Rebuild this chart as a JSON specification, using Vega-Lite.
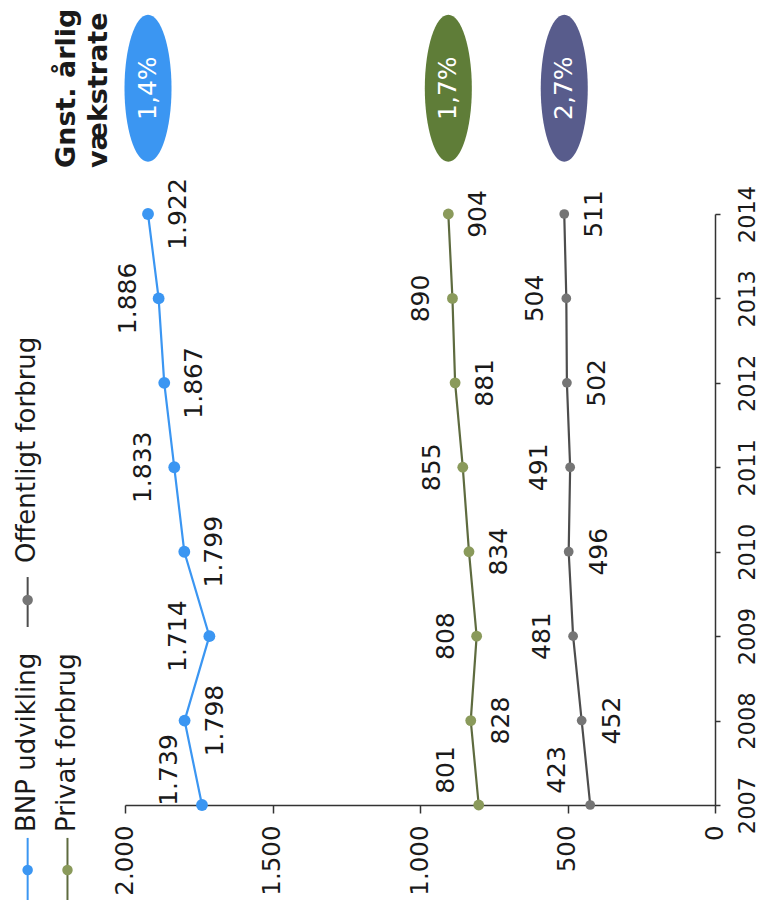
{
  "$schema": "https://vega.github.io/schema/vega-lite/v6.json",
  "width": 590,
  "height": 591,
  "autosize": "none",
  "padding": {"left": 125, "top": 214, "right": 46, "bottom": 108},
  "background": "white",
  "config": {
    "view": {"stroke": null},
    "font": "DejaVu Sans",
    "axis": {"grid": false},
    "locale": {"number": {"decimal": ",", "thousands": ".", "grouping": [3], "currency": ["", " kr."]}}
  },
  "datasets": {
    "series": [
      {"series": "BNP udvikling", "year": 2007, "value": 1739},
      {"series": "BNP udvikling", "year": 2008, "value": 1798},
      {"series": "BNP udvikling", "year": 2009, "value": 1714},
      {"series": "BNP udvikling", "year": 2010, "value": 1799},
      {"series": "BNP udvikling", "year": 2011, "value": 1833},
      {"series": "BNP udvikling", "year": 2012, "value": 1867},
      {"series": "BNP udvikling", "year": 2013, "value": 1886},
      {"series": "BNP udvikling", "year": 2014, "value": 1922},
      {"series": "Privat forbrug", "year": 2007, "value": 801},
      {"series": "Privat forbrug", "year": 2008, "value": 828},
      {"series": "Privat forbrug", "year": 2009, "value": 808},
      {"series": "Privat forbrug", "year": 2010, "value": 834},
      {"series": "Privat forbrug", "year": 2011, "value": 855},
      {"series": "Privat forbrug", "year": 2012, "value": 881},
      {"series": "Privat forbrug", "year": 2013, "value": 890},
      {"series": "Privat forbrug", "year": 2014, "value": 904},
      {"series": "Offentligt forbrug", "year": 2007, "value": 423},
      {"series": "Offentligt forbrug", "year": 2008, "value": 452},
      {"series": "Offentligt forbrug", "year": 2009, "value": 481},
      {"series": "Offentligt forbrug", "year": 2010, "value": 496},
      {"series": "Offentligt forbrug", "year": 2011, "value": 491},
      {"series": "Offentligt forbrug", "year": 2012, "value": 502},
      {"series": "Offentligt forbrug", "year": 2013, "value": 504},
      {"series": "Offentligt forbrug", "year": 2014, "value": 511}
    ],
    "growth": [
      {"series": "BNP udvikling", "rate": 0.014},
      {"series": "Privat forbrug", "rate": 0.017},
      {"series": "Offentligt forbrug", "rate": 0.027}
    ]
  },
  "data": {"name": "series"},
  "layer": [
    {
      "mark": {"type": "line", "strokeWidth": 2.2},
      "encoding": {
        "x": {
          "field": "value", "type": "quantitative",
          "scale": {"domain": [0, 2000], "reverse": true, "nice": false, "zero": false},
          "axis": {
            "title": null, "orient": "bottom", "values": [0, 500, 1000, 1500, 2000], "format": ",.0f",
            "labelAngle": 270, "labelAlign": "right", "labelBaseline": "middle",
            "labelFontSize": 24.5, "labelColor": "#1a1a1a", "labelPadding": 12, "tickSize": 8,
            "labelFlush": false, "labelOverlap": false,
            "domainColor": "#333333", "tickColor": "#333333", "domainWidth": 1.5, "tickWidth": 1.5
          }
        },
        "y": {
          "field": "year", "type": "quantitative",
          "scale": {"domain": [2007, 2014], "nice": false, "zero": false},
          "axis": {
            "title": null, "orient": "right", "values": [2007, 2008, 2009, 2010, 2011, 2012, 2013, 2014], "format": "d",
            "labelAngle": 270, "labelAlign": "center", "labelBaseline": "top",
            "labelFontSize": 22.5, "labelColor": "#1a1a1a", "labelPadding": 16, "tickSize": 5,
            "labelFlush": false, "labelOverlap": false,
            "domainColor": "#333333", "tickColor": "#333333", "domainWidth": 1.5, "tickWidth": 1.5
          }
        },
        "order": {"field": "year", "type": "quantitative"},
        "detail": {"field": "series"},
        "stroke": {
          "field": "series", "type": "nominal", "legend": null,
          "scale": {"domain": ["BNP udvikling", "Privat forbrug", "Offentligt forbrug"], "range": ["#3b96f2", "#5e6b3f", "#4d4d4d"]}
        },
        "strokeWidth": {
          "field": "series", "type": "nominal", "legend": null,
          "scale": {"domain": ["BNP udvikling", "Privat forbrug", "Offentligt forbrug"], "range": [2.6, 2, 2]}
        }
      }
    },
    {
      "mark": {"type": "point", "filled": true, "opacity": 1},
      "encoding": {
        "x": {"field": "value", "type": "quantitative"},
        "y": {"field": "year", "type": "quantitative"},
        "fill": {
          "field": "series", "type": "nominal", "legend": null,
          "scale": {"domain": ["BNP udvikling", "Privat forbrug", "Offentligt forbrug"], "range": ["#3b96f2", "#8a9a5b", "#757575"]}
        },
        "size": {
          "field": "series", "type": "nominal", "legend": null,
          "scale": {"domain": ["BNP udvikling", "Privat forbrug", "Offentligt forbrug"], "range": [140, 95, 95]}
        }
      }
    },
    {
      "transform": [{"filter": "datum.year % 2 == 1 && datum.year != 2007"}],
      "mark": {"type": "text", "angle": 270, "align": "center", "baseline": "middle", "dy": -31, "fontSize": 25, "color": "#1a1a1a"},
      "encoding": {
        "x": {"field": "value", "type": "quantitative"},
        "y": {"field": "year", "type": "quantitative"},
        "text": {"field": "value", "type": "quantitative", "format": ",.0f"}
      }
    },
    {
      "transform": [{"filter": "datum.year % 2 == 0"}],
      "mark": {"type": "text", "angle": 270, "align": "center", "baseline": "middle", "dy": 30, "fontSize": 25, "color": "#1a1a1a"},
      "encoding": {
        "x": {"field": "value", "type": "quantitative"},
        "y": {"field": "year", "type": "quantitative"},
        "text": {"field": "value", "type": "quantitative", "format": ",.0f"}
      }
    },
    {
      "transform": [{"filter": "datum.year == 2007"}],
      "mark": {"type": "text", "angle": 270, "align": "center", "baseline": "middle", "dy": -33, "dx": 35, "fontSize": 25, "color": "#1a1a1a"},
      "encoding": {
        "x": {"field": "value", "type": "quantitative"},
        "y": {"field": "year", "type": "quantitative"},
        "text": {"field": "value", "type": "quantitative", "format": ",.0f"}
      }
    },
    {
      "transform": [
        {"filter": "datum.year == 2014"},
        {"lookup": "series", "from": {"data": {"name": "growth"}, "key": "series", "fields": ["rate"]}}
      ],
      "mark": {"type": "point", "filled": true, "opacity": 1, "size": 21609,
        "shape": "M0,-1C0.1767,-1 0.32,-0.5523 0.32,0C0.32,0.5523 0.1767,1 0,1C-0.1767,1 -0.32,0.5523 -0.32,0C-0.32,-0.5523 -0.1767,-1 0,-1Z"},
      "encoding": {
        "x": {"field": "value", "type": "quantitative"},
        "y": {"datum": 2015.49, "type": "quantitative"},
        "color": {
          "field": "series", "type": "nominal", "legend": null,
          "scale": {"domain": ["BNP udvikling", "Privat forbrug", "Offentligt forbrug"], "range": ["#3b96f2", "#5f7d38", "#585c8c"]}
        }
      }
    },
    {
      "transform": [
        {"filter": "datum.year == 2014"},
        {"lookup": "series", "from": {"data": {"name": "growth"}, "key": "series", "fields": ["rate"]}}
      ],
      "mark": {"type": "text", "angle": 270, "align": "center", "baseline": "middle", "fontSize": 25, "color": "white"},
      "encoding": {
        "x": {"field": "value", "type": "quantitative"},
        "y": {"datum": 2015.49, "type": "quantitative"},
        "text": {"field": "rate", "type": "quantitative", "format": ".1%"}
      }
    },
    {
      "data": {"values": [{}]},
      "mark": {"type": "text", "angle": 270, "align": "left", "baseline": "alphabetic", "fontSize": 27, "fontWeight": "bold", "lineHeight": 32, "color": "#1a1a1a",
        "text": ["Gnst. årlig", "vækstrate"]},
      "encoding": {
        "x": {"datum": 2169, "type": "quantitative"},
        "y": {"datum": 2014.545, "type": "quantitative"}
      }
    },
    {
      "data": {"values": [{}]},
      "mark": {"type": "rule", "color": "#3b96f2", "strokeWidth": 2},
      "encoding": {
        "x": {"datum": 2330, "type": "quantitative"},
        "y": {"datum": 2006.61, "type": "quantitative"},
        "y2": {"datum": 2005.875}
      }
    },
    {
      "data": {"values": [{}]},
      "mark": {"type": "point", "filled": true, "opacity": 1, "color": "#3b96f2", "size": 110},
      "encoding": {
        "x": {"datum": 2330, "type": "quantitative"},
        "y": {"datum": 2006.23, "type": "quantitative"}
      }
    },
    {
      "data": {"values": [{}]},
      "mark": {"type": "text", "angle": 270, "align": "left", "baseline": "middle", "fontSize": 26, "color": "#1a1a1a", "text": "BNP udvikling"},
      "encoding": {
        "x": {"datum": 2332, "type": "quantitative"},
        "y": {"datum": 2006.68, "type": "quantitative"}
      }
    },
    {
      "data": {"values": [{}]},
      "mark": {"type": "rule", "color": "#5e6b3f", "strokeWidth": 2},
      "encoding": {
        "x": {"datum": 2195, "type": "quantitative"},
        "y": {"datum": 2006.61, "type": "quantitative"},
        "y2": {"datum": 2005.875}
      }
    },
    {
      "data": {"values": [{}]},
      "mark": {"type": "point", "filled": true, "opacity": 1, "color": "#8a9a5b", "size": 110},
      "encoding": {
        "x": {"datum": 2195, "type": "quantitative"},
        "y": {"datum": 2006.23, "type": "quantitative"}
      }
    },
    {
      "data": {"values": [{}]},
      "mark": {"type": "text", "angle": 270, "align": "left", "baseline": "middle", "fontSize": 26, "color": "#1a1a1a", "text": "Privat forbrug"},
      "encoding": {
        "x": {"datum": 2197, "type": "quantitative"},
        "y": {"datum": 2006.68, "type": "quantitative"}
      }
    },
    {
      "data": {"values": [{}]},
      "mark": {"type": "rule", "color": "#4d4d4d", "strokeWidth": 2},
      "encoding": {
        "x": {"datum": 2330, "type": "quantitative"},
        "y": {"datum": 2009.70, "type": "quantitative"},
        "y2": {"datum": 2009.108}
      }
    },
    {
      "data": {"values": [{}]},
      "mark": {"type": "point", "filled": true, "opacity": 1, "color": "#757575", "size": 110},
      "encoding": {
        "x": {"datum": 2330, "type": "quantitative"},
        "y": {"datum": 2009.428, "type": "quantitative"}
      }
    },
    {
      "data": {"values": [{}]},
      "mark": {"type": "text", "angle": 270, "align": "left", "baseline": "middle", "fontSize": 26, "color": "#1a1a1a", "text": "Offentligt forbrug"},
      "encoding": {
        "x": {"datum": 2332, "type": "quantitative"},
        "y": {"datum": 2009.866, "type": "quantitative"}
      }
    }
  ]
}
